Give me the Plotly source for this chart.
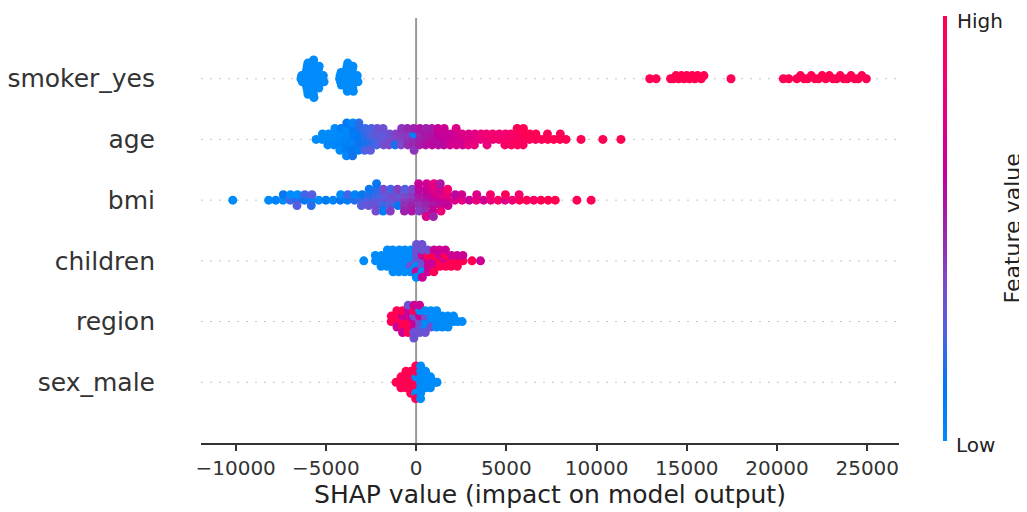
import numpy as np
import plotly.graph_objects as go

# ---------------- data ----------------
features = ["sex_male", "region", "children", "bmi", "age", "smoker_yes"]  # bottom -> top

smoker_shap = [
    -6380, -6340, -6300,
    -6140, -6120, -6100, -6090, -6080, -6060, -6050, -6030, -6010, -6000, -5990,
    -5830, -5810, -5800, -5790, -5770, -5760, -5750, -5740, -5720, -5700, -5690, -5680, -5660,
    -5510, -5490, -5470, -5450, -5430, -5410, -5390, -5370,
    -5180, -5140, -5100,
    -4240, -4210, -4190, -4160, -4140,
    -3950, -3930, -3910, -3890, -3870, -3860, -3840, -3820, -3810, -3790,
    -3630, -3610, -3590, -3570, -3550, -3530, -3510, -3500, -3480,
    -3290, -3260, -3220,
    12950, 13300, 14100, 14250, 14400, 14550, 14700, 14850, 15000, 15150, 15300, 15450, 15600, 15800, 15950, 17450,
    20350, 20650, 21100, 21300, 21500, 21700, 21900, 22100, 22300, 22500, 22700, 22900, 23100, 23300, 23500,
    23700, 23900, 24100, 24300, 24500, 24700, 24950,
]
smoker_val = [
    0, 0, 0,
    0, 0, 0, 0, 0, 0, 0, 0, 0, 0, 0,
    0, 0, 0, 0, 0, 0, 0, 0, 0, 0, 0, 0, 0,
    0, 0, 0, 0, 0, 0, 0, 0,
    0, 0, 0,
    0, 0, 0, 0, 0,
    0, 0, 0, 0, 0, 0, 0, 0, 0, 0,
    0, 0, 0, 0, 0, 0, 0, 0, 0,
    0, 0, 0,
    1, 1, 1, 1, 1, 1, 1, 1, 1, 1, 1, 1, 1, 1, 1, 1,
    1, 1, 1, 1, 1, 1, 1, 1, 1, 1, 1, 1, 1, 1, 1,
    1, 1, 1, 1, 1, 1, 1,
]

age_shap = [
    -5540, -5210, -5190, -4870, -4850, -4890, -4530, -4510, -4550, -4500,
    -4190, -4170, -4210, -4160, -4220,
    -3850, -3830, -3870, -3820, -3880, -3840, -3860,
    -3510, -3490, -3530, -3480, -3540, -3500, -3520,
    -3180, -3160, -3190, -3150, -3200, -3170,
    -2840, -2820, -2860, -2810, -2850,
    -2500, -2480, -2520, -2470, -2530,
    -2160, -2140, -2180, -2150,
    -1820, -1840, -1800, -1830,
    -1490, -1470, -1500,
    -1150, -1130, -1160,
    -810, -790, -830, -800,
    -470, -490, -460, -480,
    -140, -120, -150, -130, -110,
    200, 220, 190, 210,
    540, 560, 530, 550,
    880, 860, 890, 870,
    1220, 1200, 1230, 1210,
    1550, 1570, 1540, 1560,
    1890, 1910, 1880,
    2230, 2210, 2240, 2220,
    2570, 2550, 2580,
    2900, 2920, 2890,
    3240, 3260, 3230,
    3580, 3600,
    3920, 3900, 3930,
    4260, 4240,
    4590, 4610,
    4930, 4950, 4920,
    5270, 5250, 5280,
    5610, 5590, 5620, 5600,
    5940, 5960, 5930, 5950,
    6280, 6300, 6620, 6640, 6960, 7300, 7280, 7630, 7970, 7990, 8310,
    9140, 10350, 11350,
]
age_val = [
    18, 18, 19, 19, 18, 20, 18, 19, 20, 19,
    20, 19, 21, 22, 18,
    21, 20, 22, 19, 23, 24, 20,
    22, 23, 21, 24, 25, 20, 26,
    25, 24, 26, 27, 23, 28,
    27, 28, 26, 29, 30,
    29, 31, 28, 30, 32,
    31, 33, 30, 34,
    33, 32, 35, 34,
    35, 34, 36,
    36, 37, 26,
    37, 38, 36, 39,
    39, 38, 40, 41,
    40, 22, 41, 42, 39,
    42, 41, 43, 44,
    43, 44, 45, 42,
    45, 44, 46, 43,
    46, 47, 45, 48,
    47, 48, 46, 49,
    49, 48, 50,
    50, 49, 51, 52,
    51, 52, 50,
    53, 52, 54,
    54, 53, 55,
    55, 56,
    56, 57, 55,
    57, 58,
    58, 57,
    59, 58, 60,
    60, 59, 61,
    61, 60, 62, 63,
    62, 63, 61, 64,
    63, 64, 62, 64, 63, 64, 63, 64, 64, 63, 64,
    64, 64, 64,
]

bmi_shap = [
    -10160, -8170, -7780, -7380, -7360, -6980, -6960, -6590, -6570, -6600,
    -6190, -6170, -5790, -5770, -5810, -5390, -5000, -4600, -4200, -4180,
    -3810, -3790, -3410, -3390, -3010, -2990, -3030,
    -2610, -2590, -2630, -2600,
    -2220, -2200, -2240, -2210, -2230, -2190,
    -1820, -1800, -1840, -1810, -1830,
    -1420, -1400, -1440, -1410, -1430,
    -1020, -1040, -1010, -1030,
    -630, -610, -640, -620, -650,
    -230, -210, -250, -220, -240,
    170, 150, 180, 160, 190, 140,
    560, 580, 550, 570, 540, 590, 560,
    960, 980, 950, 970, 940, 990, 960,
    1360, 1340, 1370, 1350, 1380, 1340,
    1760, 1740, 1770, 1750,
    2150, 2170, 2550, 2530, 2950, 3340, 3360, 3740, 4140, 4120,
    4540, 4930, 4950, 5330, 5730, 5710, 6130, 6520, 6920, 7320, 7710,
    8910, 9700,
]
bmi_val = [
    17, 19, 22, 20, 24, 26, 21, 25, 19, 27,
    24, 26, 22, 27, 25, 20, 23, 22, 24, 21,
    23, 26, 25, 22, 26, 24, 27,
    27, 25, 28, 24,
    27, 26, 28, 25, 29, 24,
    28, 27, 26, 29, 23,
    28, 29, 27, 26, 30,
    29, 28, 24, 30,
    30, 29, 31, 27, 32,
    31, 30, 32, 29, 33,
    32, 33, 31, 34, 30, 35,
    33, 34, 32, 35, 31, 36, 37,
    34, 36, 33, 37, 35, 38, 32,
    35, 37, 34, 36, 39, 33,
    36, 38, 35, 40,
    37, 34, 38, 36, 35, 39, 37, 36, 38, 40,
    41, 37, 42, 39, 42, 40, 44, 41, 45, 46, 44,
    47, 49,
]

children_shap = [
    -2900, -2250, -2260, -1930, -1920, -1940,
    -1610, -1600, -1620, -1590,
    -1280, -1290, -1270, -1300, -1280,
    -960, -950, -970, -940, -960,
    -640, -630, -650, -620, -640,
    -310, -300, -320, -290, -310,
    10, 20, 0, 15, 5, 25, 10,
    330, 340, 320, 350, 335, 325, 345,
    660, 650, 670, 645, 660,
    980, 990, 970, 995, 985,
    1310, 1300, 1320, 1295,
    1630, 1620, 1640, 1625,
    1950, 1960, 1945,
    2280, 2270, 2285,
    2600, 2590,
    3100, 3570,
]
children_val = [
    0, 0, 0, 0, 0, 0,
    0, 0, 0, 0,
    0, 0, 0, 0, 0,
    0, 0, 0, 0, 0,
    0, 0, 0, 0, 0,
    0, 0, 1, 0, 0,
    1, 1, 0, 1, 2, 1, 0,
    1, 2, 1, 1, 0, 1, 2,
    2, 3, 2, 1, 2,
    2, 3, 2, 2, 3,
    3, 2, 3, 2,
    2, 3, 4, 2,
    3, 2, 3,
    3, 2, 4,
    3, 2,
    3, 2,
]

region_shap = [
    -1380, -1375,
    -1065, -1070, -1060, -1068,
    -750, -755, -745, -752, -748,
    -437, -440, -432, -435, -442, -438,
    -120, -125, -118, -122, -127, -119, -124,
    190, 195, 188, 193, 197, 191,
    505, 510, 502, 507, 509,
    820, 825, 818, 822,
    1135, 1140, 1130, 1137,
    1450, 1455, 1447,
    1765, 1760, 1768,
    2080, 2075, 2300, 2550,
]
region_val = [
    3, 3,
    3, 3, 2, 3,
    3, 2, 3, 3, 2,
    3, 2, 3, 2, 3, 1,
    2, 1, 2, 3, 1, 2, 1,
    1, 2, 1, 0, 1, 2,
    0, 1, 0, 0, 1,
    0, 0, 1, 0,
    0, 0, 0, 0,
    0, 0, 0,
    0, 0, 0,
    0, 0, 0, 0,
]

sex_shap = [
    -1110,
    -838, -835, -841,
    -566, -563, -569, -565,
    -293, -290, -296, -292, -295,
    -21, -18, -24, -20, -23, -19, -22,
    251, 254, 248, 252, 249, 253, 250,
    523, 526, 520, 524,
    796, 799, 793,
    1068, 1160,
]
sex_val = [
    1,
    1, 1, 1,
    1, 1, 1, 1,
    1, 1, 1, 1, 1,
    1, 0, 1, 1, 0, 1, 1,
    0, 0, 0, 0, 0, 0, 0,
    0, 0, 0, 0,
    0, 0, 0,
    0, 0,
]

x_tick_vals = [-10000, -5000, 0, 5000, 10000, 15000, 20000, 25000]
x_tick_text = ["\u221210000", "\u22125000", "0", "5000", "10000", "15000", "20000", "25000"]
colorbar_labels = ["Low", "High"]

rows = [
    (sex_shap, sex_val),
    (region_shap, region_val),
    (children_shap, children_val),
    (bmi_shap, bmi_val),
    (age_shap, age_val),
    (smoker_shap, smoker_val),
]

# SHAP "red_blue" colormap (Lch interpolation), sampled
red_blue = [
    [0.0, "rgb(0,139,251)"],
    [0.125, "rgb(0,120,243)"],
    [0.25, "rgb(75,99,227)"],
    [0.375, "rgb(125,73,203)"],
    [0.5, "rgb(155,36,173)"],
    [0.625, "rgb(194,0,156)"],
    [0.75, "rgb(224,0,134)"],
    [0.875, "rgb(245,0,109)"],
    [1.0, "rgb(255,0,82)"],
]


def swarm_offsets(shaps, row_height=0.4, nbins=100):
    shaps = np.asarray(shaps, dtype=float)
    n = len(shaps)
    quant = np.round(nbins * (shaps - shaps.min()) / (shaps.max() - shaps.min() + 1e-8))
    inds = np.argsort(quant, kind="stable")
    layer = 0
    last_bin = -1
    ys = np.zeros(n)
    for ind in inds:
        if quant[ind] != last_bin:
            layer = 0
        ys[ind] = np.ceil(layer / 2) * ((layer % 2) * 2 - 1)
        layer += 1
        last_bin = quant[ind]
    ys *= 0.9 * (row_height / np.max(ys + 1))
    return ys


def norm_colors(vals):
    v = np.asarray(vals, dtype=float)
    vmin = np.nanpercentile(v, 5)
    vmax = np.nanpercentile(v, 95)
    if vmin == vmax:
        vmin, vmax = np.nanmin(v), np.nanmax(v)
    return np.clip((v - vmin) / (vmax - vmin), 0, 1)


fig = go.Figure()

# dotted row guides and zero line
for pos in range(len(features)):
    fig.add_shape(type="line", xref="paper", yref="y", x0=0, x1=1, y0=pos, y1=pos,
                  line=dict(color="#c4c4c4", width=1, dash="2px,7px"), layer="below")
fig.add_shape(type="line", xref="x", yref="y", x0=0, x1=0, y0=-1, y1=6,
              line=dict(color="#999999", width=2), layer="below")

for pos, (shaps, vals) in enumerate(rows):
    assert len(shaps) == len(vals), features[pos]
    ys = swarm_offsets(shaps)
    fig.add_trace(go.Scatter(
        x=shaps, y=pos + ys, mode="markers", name=features[pos],
        marker=dict(size=9, color=norm_colors(vals), coloraxis="coloraxis", line=dict(width=0), opacity=1),
        showlegend=False, hoverinfo="skip",
    ))

# the page body adds an 8px offset; the figure is sized so it ends at the window edge
OFF = 8
W, H = 1027 - OFF, 512 - OFF
L, T = 201 - OFF, 18 - OFF
R, B = 128, 69
pw, ph = W - L - R, H - T - B


def px(xs):  # window x pixel -> paper x
    return (xs - OFF - L) / pw


def py(ys):  # window y pixel -> paper y
    return (H - B - (ys - OFF)) / ph


bar_top, bar_bot = 16, 441

fig.update_layout(
    width=W, height=H,
    margin=dict(l=L, r=R, t=T, b=B, pad=0, autoexpand=False),
    plot_bgcolor="white", paper_bgcolor="white",
    font=dict(family="DejaVu Sans", color="#333333"),
    coloraxis=dict(
        colorscale=red_blue, cmin=0, cmax=1,
        colorbar=dict(
            thickness=4, thicknessmode="pixels",
            len=bar_bot - bar_top, lenmode="pixels",
            x=px(943), xanchor="left", xpad=0,
            y=py((bar_top + bar_bot) / 2), yanchor="middle", ypad=0,
            outlinewidth=0, ticks="", showticklabels=False,
        ),
    ),
    xaxis=dict(
        range=[-11920, 26760], tickvals=x_tick_vals, ticktext=x_tick_text,
        showgrid=False, zeroline=False, showline=True, linecolor="#333333", linewidth=1.5,
        ticks="outside", ticklen=6, tickwidth=1.5, tickcolor="#333333",
        tickfont=dict(size=20, color="#333333"), automargin=False,
        title=dict(text="SHAP value (impact on model output)", font=dict(size=25, color="#222222"), standoff=7),
    ),
    yaxis=dict(
        range=[-1, 6], tickvals=list(range(len(features))), ticktext=features,
        showgrid=False, zeroline=False, showline=False, automargin=False,
        ticks="outside", ticklen=40, tickcolor="rgba(0,0,0,0)",
        tickfont=dict(size=25, color="#333333"),
    ),
    annotations=[
        dict(text="Feature value", xref="paper", yref="paper",
             x=px(1012), y=py((bar_top + bar_bot) / 2), textangle=-90,
             showarrow=False, font=dict(size=22, color="#222222"), xanchor="center", yanchor="middle"),
        dict(text=colorbar_labels[1], xref="paper", yref="paper", x=px(955), y=py(bar_top + 5),
             showarrow=False, font=dict(size=20, color="#222222"), xanchor="left", yanchor="middle"),
        dict(text=colorbar_labels[0], xref="paper", yref="paper", x=px(954), y=py(bar_bot + 4),
             showarrow=False, font=dict(size=20, color="#222222"), xanchor="left", yanchor="middle"),
    ],
)

fig.write_html("out.html")
